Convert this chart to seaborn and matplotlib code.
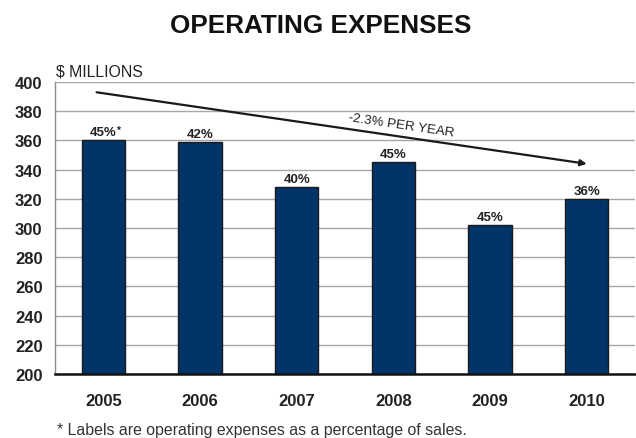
import matplotlib
matplotlib.use("Agg")
import matplotlib.pyplot as plt
import seaborn as sns
import pandas as pd

# Operating expenses, $ millions, and share of sales
years = ["2005", "2006", "2007", "2008", "2009", "2010"]
expenses = [360, 359, 328, 345, 302, 320]
pct_of_sales = ["45%", "42%", "40%", "45%", "45%", "36%"]
footnote_marks = ["*", "", "", "", "", ""]

# Trend arrow endpoints (category index, $ millions) and its label
trend_start = (-0.07, 393)
trend_end = (5.0, 344)
trend_label = "-2.3% PER YEAR"

yticks = list(range(200, 401, 20))

sns.set_theme(style="white")
plt.rcParams["font.family"] = ["Liberation Sans", "DejaVu Sans"]

df = pd.DataFrame({"year": years, "expense": expenses})

fig = plt.figure(figsize=(6.36, 4.39), dpi=100)
ax = fig.add_axes([0.0865, 0.1458, 0.912, 0.665])

sns.barplot(data=df, x="year", y="expense", color="#033467", width=0.45,
            edgecolor="#1a1a1a", linewidth=1.0, saturation=1, ax=ax, zorder=3)

ax.set_ylim(200, 400)
ax.set_xlim(-0.5, 5.5)
ax.set_yticks(yticks)
ax.yaxis.grid(True, color="#a6a6a6", linewidth=1.0, zorder=0)
ax.set_axisbelow(True)
ax.set_xlabel("")
ax.set_ylabel("")

for side in ["top", "right"]:
    ax.spines[side].set_visible(False)
ax.spines["left"].set_color("#8c8c8c")
ax.spines["left"].set_linewidth(1.0)
ax.spines["bottom"].set_color("#111111")
ax.spines["bottom"].set_linewidth(1.8)
ax.spines["bottom"].set_zorder(4)

ax.tick_params(axis="y", length=0, pad=9, labelsize=12)
ax.tick_params(axis="x", length=0, pad=13.5, labelsize=12)
for lbl in ax.get_xticklabels() + ax.get_yticklabels():
    lbl.set_fontweight("bold")
    lbl.set_color("#222222")

# Percentage labels above the bars
for i, (v, p, m) in enumerate(zip(expenses, pct_of_sales, footnote_marks)):
    ax.annotate(p, xy=(i, v), xytext=(0, 3.6), textcoords="offset points",
                ha="center", va="baseline", fontsize=9.5, fontweight="bold",
                color="#222222")
    if m:
        ax.annotate(m, xy=(i, v), xytext=(9.8, 5.3), textcoords="offset points",
                    ha="left", va="baseline", fontsize=7, fontweight="bold",
                    color="#222222")

# Trend arrow
ax.annotate("", xy=trend_end, xytext=trend_start,
            arrowprops=dict(arrowstyle="-|>", color="#1a1a1a", lw=1.6,
                            mutation_scale=9, shrinkA=0, shrinkB=0),
            zorder=5)
ax.text(3.08, 370.5, trend_label, rotation=-8.4, rotation_mode="anchor",
        ha="center", va="center", fontsize=9.6, color="#222222")

fig.text(0.504, 0.94, "OPERATING EXPENSES", ha="center", va="center",
         fontsize=18.8, fontweight="bold", color="#111111")
fig.text(0.088, 0.837, "$ MILLIONS", ha="left", va="center",
         fontsize=11.4, color="#222222")
fig.text(0.0896, 0.0205, "* Labels are operating expenses as a percentage of sales.",
         ha="left", va="center", fontsize=11.4, color="#333333")

fig.savefig("out.png", dpi=100, facecolor="white")
